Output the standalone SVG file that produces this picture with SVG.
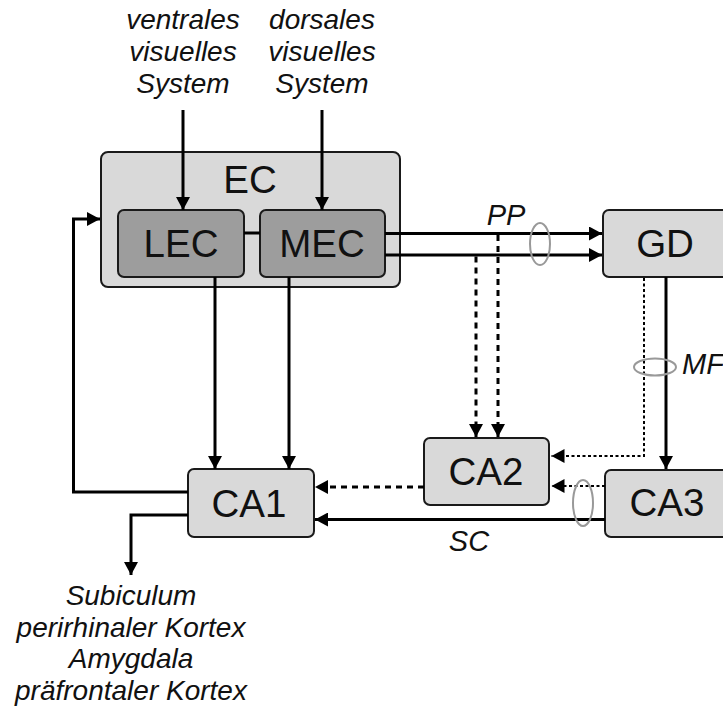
<svg xmlns="http://www.w3.org/2000/svg" width="723" height="707" viewBox="0 0 723 707">
<style>
.box{fill:#d9d9d9;stroke:#1a1a1a;stroke-width:2}
.dbox{fill:#9d9d9d;stroke:#1a1a1a;stroke-width:2}
.lbl{font-family:"Liberation Sans",Arial,sans-serif;font-size:38.5px;fill:#111;text-anchor:middle}
.it{font-family:"Liberation Sans",Arial,sans-serif;font-size:28px;font-style:italic;fill:#111;text-anchor:middle}
.sm{font-family:"Liberation Sans",Arial,sans-serif;font-size:29px;font-style:italic;fill:#111}
.solid{fill:none;stroke:#000;stroke-width:3}
.dash{fill:none;stroke:#000;stroke-width:3;stroke-dasharray:6 5}
.dot{fill:none;stroke:#000;stroke-width:2;stroke-dasharray:3 2.5}
.ell{fill:none;stroke:#999;stroke-width:2}
</style>
<defs>
<marker id="ah" markerUnits="userSpaceOnUse" markerWidth="14" markerHeight="14" refX="13" refY="7" orient="auto">
<path d="M0,0 L13,7 L0,14 z" fill="#000" stroke="none"/>
</marker>
</defs>
<g id="texts-top">
<text class="it" x="183" y="29">ventrales</text>
<text class="it" x="183" y="61">visuelles</text>
<text class="it" x="183" y="93">System</text>
<text class="it" x="322" y="29">dorsales</text>
<text class="it" x="322" y="61">visuelles</text>
<text class="it" x="322" y="93">System</text>
</g>
<g id="EC"><rect class="box" x="101" y="152" width="299" height="135" rx="7"/><text class="lbl" x="250" y="193">EC</text></g>
<g id="LEC"><rect class="dbox" x="118" y="210" width="126" height="67" rx="6"/><text class="lbl" x="181" y="257">LEC</text></g>
<g id="MEC"><rect class="dbox" x="260" y="210" width="125" height="67" rx="6"/><text class="lbl" x="322" y="257">MEC</text></g>
<g id="GD"><rect class="box" x="603" y="210" width="130" height="67" rx="6"/><text class="lbl" x="665" y="257">GD</text></g>
<g id="CA2"><rect class="box" x="424" y="438" width="125" height="67" rx="6"/><text class="lbl" x="486" y="485">CA2</text></g>
<g id="CA3"><rect class="box" x="605" y="470" width="130" height="67" rx="6"/><text class="lbl" x="667" y="516">CA3</text></g>
<g id="CA1"><rect class="box" x="188" y="469" width="126" height="68" rx="6"/><text class="lbl" x="249" y="517">CA1</text></g>
<g id="connectors">
<line class="solid" x1="183" y1="110" x2="183" y2="210" marker-end="url(#ah)"/>
<line class="solid" x1="322" y1="110" x2="322" y2="210" marker-end="url(#ah)"/>
<line class="solid" x1="244" y1="233" x2="260" y2="233"/>
<line class="solid" x1="385" y1="233.5" x2="602" y2="233.5" marker-end="url(#ah)"/>
<line class="solid" x1="385" y1="255" x2="602" y2="255" marker-end="url(#ah)"/>
<line class="dash" x1="498" y1="235" x2="498" y2="437" marker-end="url(#ah)"/>
<line class="dash" x1="476" y1="256.5" x2="476" y2="437" marker-end="url(#ah)"/>
<polyline class="dot" points="644,278 644,456 551.5,456" marker-end="url(#ah)"/>
<line class="solid" x1="666" y1="277" x2="666" y2="469" marker-end="url(#ah)"/>
<line class="dot" x1="605" y1="486" x2="551.5" y2="486" marker-end="url(#ah)"/>
<line class="dash" x1="424" y1="487" x2="315" y2="487" marker-end="url(#ah)"/>
<line class="solid" x1="605" y1="519.5" x2="315" y2="519.5" marker-end="url(#ah)"/>
<line class="solid" x1="215" y1="277" x2="215" y2="469" marker-end="url(#ah)"/>
<line class="solid" x1="289" y1="277" x2="289" y2="469" marker-end="url(#ah)"/>
<polyline class="solid" points="188,492 73.5,492 73.5,219 100,219" marker-end="url(#ah)"/>
<polyline class="solid" points="188,515 131,515 131,575" marker-end="url(#ah)"/>
<ellipse class="ell" cx="540" cy="244" rx="10" ry="21"/>
<ellipse class="ell" cx="655" cy="367" rx="21" ry="8.5"/>
<ellipse class="ell" cx="583" cy="503" rx="10" ry="23"/>
<text class="sm" x="506" y="225" text-anchor="middle">PP</text>
<text class="sm" x="682" y="374">MF</text>
<text class="sm" x="469" y="551" text-anchor="middle">SC</text>
</g>
<g id="texts-bottom">
<text class="it" x="131" y="605">Subiculum</text>
<text class="it" x="131" y="637">perirhinaler Kortex</text>
<text class="it" x="131" y="668">Amygdala</text>
<text class="it" x="131" y="700">präfrontaler Kortex</text>
</g>
</svg>
